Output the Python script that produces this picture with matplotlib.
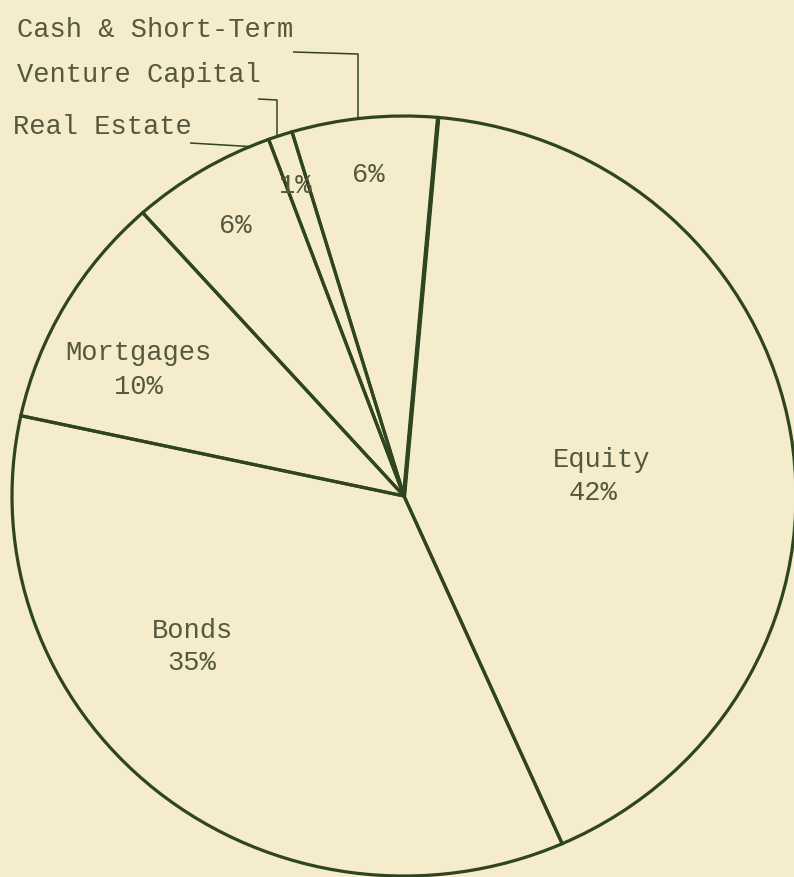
import numpy as np
import matplotlib
matplotlib.use("Agg")
import matplotlib.pyplot as plt

# ---- data ----
categories = ["Equity", "Bonds", "Mortgages", "Real Estate",
              "Venture Capital", "Cash & Short-Term"]
shares = [42, 35, 10, 6, 1, 6]
share_labels = ["42%", "35%", "10%", "6%", "1%", "6%"]

# ---- style ----
W, H = 794, 877
BG = "#f4ecca"
LINE = "#2f4420"
TEXT = "#55583f"
FONT = "Liberation Mono"
FS = 19.5

fig = plt.figure(figsize=(W / 100, H / 100), dpi=100, facecolor=BG)

# pie axes: slightly elliptical scan, centre (404,496) px, semi-axes 392 x 380
cx, cy, a, b = 404, 496, 392, 380
axp = fig.add_axes([(cx - a) / W, (H - cy - b) / H, 2 * a / W, 2 * b / H])
wedges, _ = axp.pie(shares, startangle=85, counterclock=False, radius=1,
                    wedgeprops=dict(fill=False, edgecolor=LINE,
                                    linewidth=2.3, clip_on=False))
axp.set_aspect("auto")
axp.set_xlim(-1, 1)
axp.set_ylim(-1, 1)
axp.axis("off")
# heavier starting edge of the Equity slice
t0 = np.deg2rad(wedges[0].theta2)
axp.plot([0, np.cos(t0)], [0, np.sin(t0)], color=LINE, lw=3.2,
         solid_capstyle="butt", clip_on=False)

# overlay axes in pixel coordinates for text and leader lines
ax = fig.add_axes([0, 0, 1, 1])
ax.set_xlim(0, W)
ax.set_ylim(H, 0)
ax.axis("off")
ax.patch.set_alpha(0)


def rim_y(x):
    return cy - b * np.sqrt(1 - ((x - cx) / a) ** 2)


tk = dict(fontfamily=FONT, fontsize=FS, color=TEXT, va="baseline")

# outside labels with leader lines (Cash, Venture Capital, Real Estate)
ax.text(17, 37, categories[5], ha="left", **tk)
ax.text(17, 82, categories[4], ha="left", **tk)
ax.text(13, 134, categories[3], ha="left", **tk)

lk = dict(color=LINE, lw=1.1, solid_capstyle="butt")
ax.plot([293, 358, 358], [52, 54, rim_y(358)], **lk)
ax.plot([258, 277, 277], [99, 100, rim_y(277)], **lk)
ax.plot([190, 250], [143, rim_y(250)], **lk)

# inside labels
ax.text(602, 467, categories[0], ha="center", **tk)
ax.text(593, 500, share_labels[0], ha="center", **tk)
ax.text(193, 638, categories[1], ha="center", **tk)
ax.text(192, 670, share_labels[1], ha="center", **tk)
ax.text(138, 360, categories[2], ha="center", **tk)
ax.text(138, 394, share_labels[2], ha="center", **tk)
ax.text(235, 233, share_labels[3], ha="center", **tk)
ax.text(295, 193, share_labels[4], ha="center", **tk)
ax.text(368, 182, share_labels[5], ha="center", **tk)

fig.savefig("out.png", dpi=100, facecolor=BG)
